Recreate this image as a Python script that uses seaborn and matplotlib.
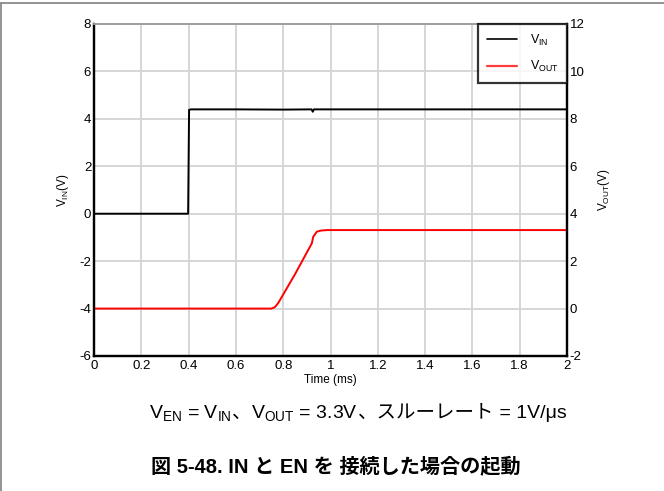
import matplotlib
matplotlib.use("Agg")
import matplotlib.pyplot as plt
import seaborn as sns
import pandas as pd
from matplotlib.lines import Line2D
from matplotlib.offsetbox import TextArea, HPacker, AnchoredOffsetbox

# ---- data ----
vin_time = [0.0, 0.398, 0.402, 0.41, 0.6, 0.8, 0.92, 0.925, 0.93, 1.2, 1.6, 2.0]
vin_volt = [0.0, 0.0, 4.38, 4.40, 4.40, 4.39, 4.40, 4.30, 4.40, 4.40, 4.40, 4.40]

vout_time = [0.0, 0.3, 0.6, 0.75, 0.765, 0.78, 0.85, 0.921, 0.927, 0.942, 0.96, 0.984, 1.2, 1.6, 2.0]
vout_volt = [0.0, 0.0, 0.0, 0.0, 0.06, 0.25, 1.45, 2.75, 3.03, 3.24, 3.29, 3.31, 3.31, 3.31, 3.31]

x_ticks = [0, 0.2, 0.4, 0.6, 0.8, 1, 1.2, 1.4, 1.6, 1.8, 2]
x_tick_labels = ["0", "0.2", "0.4", "0.6", "0.8", "1", "1.2", "1.4", "1.6", "1.8", "2"]
y_left_ticks = [-6, -4, -2, 0, 2, 4, 6, 8]
y_right_ticks = [-2, 0, 2, 4, 6, 8, 10, 12]

caption_parts = [r"V$_{\mathregular{EN}}$ = V$_{\mathregular{IN}}$", "、",
                 r"V$_{\mathregular{OUT}}$ = 3.3V", "、スルーレート", " = 1V/μs"]
title_text = "図 5-48. IN と EN を 接続した場合の起動"

vin_df = pd.DataFrame({"t": vin_time, "v": vin_volt})
vout_df = pd.DataFrame({"t": vout_time, "v": vout_volt})

sns.set_theme(style="white")
plt.rcParams["font.family"] = ["Liberation Sans", "Noto Sans CJK JP", "DejaVu Sans"]
plt.rcParams["mathtext.fontset"] = "custom"
plt.rcParams["mathtext.rm"] = "Liberation Sans"
plt.rcParams["axes.unicode_minus"] = False
plt.rcParams["text.color"] = "black"
plt.rcParams["axes.labelcolor"] = "black"

fig = plt.figure(figsize=(6.64, 4.91), dpi=100)
ax = fig.add_axes([94/664, 1-356/491, (567-94)/664, (356-24)/491])
ax2 = ax.twinx()

grid_c = "#d3d3d3"
ax.set_xlim(0, 2)
ax.set_ylim(-6, 8)
ax2.set_ylim(-2, 12)
ax.set_xticks(x_ticks)
ax.set_xticklabels(x_tick_labels)
ax.set_yticks(y_left_ticks)
ax2.set_yticks(y_right_ticks)
ax.grid(True, color=grid_c, linewidth=1.3)
ax.set_axisbelow(True)

sns.lineplot(data=vin_df, x="t", y="v", ax=ax, color="black", linewidth=1.4, legend=False)
sns.lineplot(data=vout_df, x="t", y="v", ax=ax2, color="#ff0000", linewidth=1.4, legend=False)

for a in (ax, ax2):
    a.tick_params(axis="both", labelsize=9.5, length=0, pad=2, colors="black")
    for s in ("left", "bottom", "right"):
        a.spines[s].set_color("black")
        a.spines[s].set_linewidth(1.6)
    a.spines["top"].set_color("#a0a0a0")
    a.spines["top"].set_linewidth(1.3)
ax.tick_params(axis="x", pad=3)

ax.set_xlabel("Time (ms)", fontsize=8.5, labelpad=1)
ax.set_ylabel(r"V$_{\mathregular{IN}}$(V)", fontsize=8.5, labelpad=6)
ax2.set_ylabel(r"V$_{\mathregular{OUT}}$(V)", fontsize=8.5, labelpad=8)

handles = [Line2D([0], [0], color="black", lw=1.2),
           Line2D([0], [0], color="#ff3b3b", lw=1.6)]
leg = ax2.legend(handles, [r"V$_{\mathregular{IN}}$", r"V$_{\mathregular{OUT}}$"],
                 loc="upper right", fontsize=9, frameon=True, fancybox=False,
                 borderaxespad=0, handlelength=2.4, handletextpad=1.0,
                 borderpad=0.7, labelspacing=0.9)
leg.get_frame().set_edgecolor("black")
leg.get_frame().set_linewidth(1.6)

# caption built from pieces so CJK and mathtext both render
areas = []
for part in caption_parts:
    fam = ["Noto Sans CJK JP", "Liberation Sans"] if ("、" in part) else ["Liberation Sans", "Noto Sans CJK JP"]
    areas.append(TextArea(part, textprops=dict(fontsize=14, family=fam, color="black")))
pack = HPacker(children=areas, align="baseline", pad=0, sep=0)
anch = AnchoredOffsetbox(loc="center", child=pack, frameon=False, pad=0, borderpad=0,
                         bbox_to_anchor=(358/664, 1-413/491),
                         bbox_transform=fig.transFigure)
fig.add_artist(anch)

fig.text(336/664, 1-467/491, title_text,
         ha="center", va="center", fontsize=14.5, fontweight="bold",
         family=["Liberation Sans", "Noto Sans CJK JP"])

# partial frame around figure (top and left)
fig.add_artist(Line2D([0.0015, 1.0], [1-3/491, 1-3/491], transform=fig.transFigure,
                      color="#808080", lw=1.2))
fig.add_artist(Line2D([0.0015, 0.0015], [0, 1-3/491], transform=fig.transFigure,
                      color="#808080", lw=1.2))

fig.savefig("out.png", dpi=100)
